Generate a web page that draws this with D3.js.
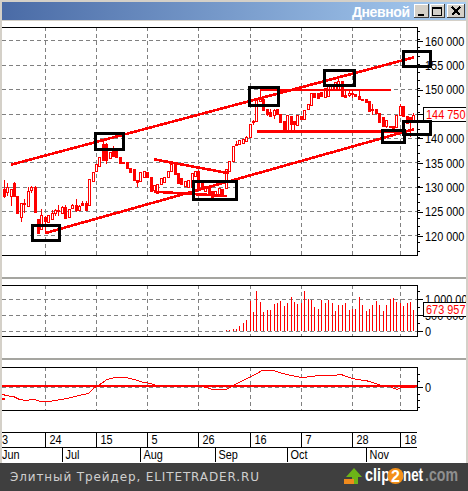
<!DOCTYPE html>
<html><head><meta charset="utf-8">
<script src="https://cdn.jsdelivr.net/npm/d3@7/dist/d3.min.js"></script>
<style>html,body{margin:0;padding:0;background:#fff;overflow:hidden}svg{display:block}</style>
</head><body><svg id="c" width="468" height="491" shape-rendering="crispEdges"></svg>
<script>
// ---- data (prices in thousands, index = trading day) ----
const firstBar = 3;
const opens  = [129.7,129.0,128.2,130.9,128.3,124.0,126.6,126.3,129.4,130.1,123.4,121.6,123.8,122.9,123.5,124.7,125.3,124.7,126.0,123.9,125.8,126.4,125.3,126.8,126.8,126.4,131.4,133.3,134.3,138.8,138.8,136.0,137.5,137.5,136.3,135.1,135.1,133.9,133.8,131.5,131.4,132.2,133.2,132.2,129.5,128.8,130.6,131.0,132.1,133.2,135.1,133.0,131.8,130.3,129.9,130.1,132.3,133.4,131.0,129.3,129.9,129.3,128.2,128.4,129.6,129.9,133.4,135.4,138.5,138.8,139.1,139.5,140.3,143.2,143.4,147.7,148.0,146.0,145.4,144.9,146.1,145.1,143.6,141.7,144.6,143.6,142.9,144.7,144.0,146.0,147.0,149.4,149.4,149.5,148.6,148.7,150.1,150.1,150.1,151.8,149.0,148.8,149.0,149.1,148.8,148.2,148.2,147.6,145.8,146.0,145.2,144.4,142.5,142.6,142.6,142.5,144.9,146.7,144.7,144.5,143.3];
const closes = [128.3,130.1,129.7,128.3,124.9,126.8,126.7,129.3,130.0,124.9,120.6,124.4,123.0,124.3,124.7,125.4,125.0,126.0,123.7,125.6,126.4,125.3,126.2,126.4,125.4,131.7,133.2,134.7,136.2,135.6,135.6,137.2,136.4,136.3,135.1,135.0,133.9,133.0,131.5,131.0,133.2,133.4,132.2,129.3,130.5,130.6,131.8,132.0,133.4,134.7,132.7,131.0,130.6,131.3,131.4,132.9,133.4,129.9,130.0,130.3,128.6,128.1,129.3,129.9,128.2,133.7,135.4,138.4,138.8,139.7,139.9,140.3,142.9,143.5,148.0,148.6,145.8,144.9,144.5,145.9,145.1,143.4,141.5,144.9,142.9,142.9,144.9,144.0,145.8,147.0,149.4,148.6,148.4,148.6,150.4,150.9,150.8,151.6,151.8,148.8,148.6,149.3,149.3,148.6,148.1,148.0,147.6,145.6,146.0,145.2,143.3,142.5,143.8,142.3,141.4,144.9,146.7,144.7,143.2,143.8,144.75];
const highs  = [131.4,130.9,129.7,131.0,128.3,126.8,127.6,130.0,130.3,130.2,123.4,125.6,124.0,124.3,125.3,125.5,126.4,126.1,126.4,125.6,126.5,127.5,126.3,127.1,127.1,131.7,133.2,134.7,136.2,139.4,139.0,137.2,138.4,137.6,136.3,135.1,135.1,133.9,133.8,131.5,133.2,133.4,133.2,132.2,130.5,130.6,131.8,132.0,133.4,134.7,135.1,133.0,131.8,131.3,131.4,132.9,133.4,133.6,131.0,130.3,129.9,129.3,129.3,129.9,129.6,133.7,135.4,138.4,139.4,139.7,139.9,140.6,142.9,143.8,148.0,150.0,148.0,146.0,146.0,146.0,146.1,145.1,143.6,144.9,144.6,143.6,144.9,144.7,145.8,147.0,149.4,149.4,149.4,149.5,150.4,150.9,150.8,151.6,152.3,151.8,150.0,149.9,150.0,149.1,150.0,148.2,148.2,147.6,147.0,146.0,145.2,144.4,143.8,142.6,142.6,144.9,147.0,146.7,144.7,144.5,145.2];
const lows   = [127.8,128.2,126.2,128.2,124.9,122.8,124.7,126.3,128.8,124.9,120.6,121.6,120.6,122.9,123.5,124.0,124.0,124.6,123.6,123.9,125.7,124.9,125.3,126.3,125.1,126.4,131.4,133.3,134.3,135.6,134.7,136.0,136.4,136.3,135.1,135.0,133.9,133.0,131.5,130.0,131.4,132.2,132.2,129.3,128.8,128.8,130.6,131.0,132.1,133.2,132.7,131.0,130.6,130.3,129.9,130.1,132.3,129.9,130.0,129.0,128.6,128.1,128.2,128.4,128.2,129.9,133.4,135.4,138.5,138.8,139.1,139.5,140.3,142.8,143.4,147.7,145.8,144.6,144.5,144.0,145.1,143.4,141.5,141.7,141.5,141.7,142.9,144.0,144.0,146.0,147.0,148.6,148.4,148.6,148.6,148.7,150.1,150.1,150.1,148.8,148.6,148.6,148.4,148.6,148.1,148.0,147.6,145.6,144.8,145.2,143.3,142.5,142.1,142.3,141.4,142.5,144.9,144.7,143.2,140.4,143.3];

const volumeFirst = 66;
const volumes = [20,15,30,40,60,63,167,271,354,958,604,1260,917,604,667,667,854,875,938,792,875,1063,927,854,875,1260,1021,979,771,688,979,896,979,875,646,823,823,875,667,688,688,1063,823,636,688,823,948,823,636,823,1000,1042,917,875,792,896,927,674];

const oscDays = [2.3,3.7,5.6,7.6,9.5,11.5,13.4,16.4,19.3,22.2,25.2,27.6,29.6,31,33,35.4,38.8,41.8,43.7,45.7,47.1,50.5,57.4,61.3,64.2,68.1,70.2,72.2,75.1,78.5,81.9,85.4,90.2,95,100,101.5,104.9,109.3,113.2,116.1,118,119.5,123.4];
const oscVals = [-21,-26,-28,-38,-40,-36,-43,-43,-38,-32,-24,-19,0,8,23,29,29,21,14,12,6,3,1,1,-7,-7,6,16,31,50,50,39,29,35,36,39,26,19,6,1,-7,0,-2];

const priceTicks = [120,125,130,135,140,145,150,155,160];
const volumeTicks = [0,500,1000];
const oscTicks = [0];
const weekTicks = [15,30,45,60,75,90,105,119];
const weekLabels = ["24","15","5","26","16","7","28","18"];
const monthTicks = [20,43,65,86,109];
const monthLabels = ["Jul","Aug","Sep","Oct","Nov"];
const lastClose = "144 750";
const lastVolume = "673 957";

// [day0, price0, day1, price1]
const trendLines = [
  [4.95,134.63,123,156.66],[15,120.6,123,141.9],
  [46.85,135.73,68.9,132.86],[46.85,129.09,68.15,128.2],
  [77.9,149.95,116.2,149.95],[77.1,141.4,119.1,141.4]
];
// [day0, day1, priceHigh, priceLow]
const boxes = [
  [11.25,19.16,122.15,119.14],[29.7,37.9,141.03,137.8],[58.5,71.0,131.18,127.43],
  [74.83,83.33,150.46,146.83],[96.8,105.6,153.89,150.8],[120.0,127.95,157.85,154.7],
  [113.7,120.2,141.58,139.12],[120.0,127.8,143.49,140.82]
];

// ---- scales ----
const svg = d3.select("#c");
const RED = "#ff0000", GRID = "#808080", L = 2, R = 417;
const x = d3.scaleLinear().domain([15,119]).range([45.3,400.3]);
const yP = d3.scaleLinear().domain([116.1,162.87]).range([255,27]);
const yV = d3.scaleLinear().domain([-147,1447]).range([336,285]);
const yO = d3.scaleLinear().domain([-69,61]).range([410,367]);
const snap = v => Math.round(v-0.5)+0.5;
const WIDE_FONT = "'Liberation Sans',Arial,sans-serif";
const LABEL_FONT = WIDE_FONT;
const NARROW = 0.84; // the reference's label face is narrower than Liberation Sans

// window chrome
svg.append("rect").attr("width",468).attr("height",491).attr("fill","#d4d0c8");
svg.append("rect").attr("x",2).attr("y",21).attr("width",464).attr("height",442).attr("fill","#fff");
const defs = svg.append("defs");
const grad = defs.append("linearGradient").attr("id","tb");
grad.append("stop").attr("offset",0).attr("stop-color","#4a6ba6");
grad.append("stop").attr("offset",1).attr("stop-color","#a8cdf2");
svg.append("rect").attr("x",2).attr("y",1.5).attr("width",464).attr("height",18.5).attr("fill","url(#tb)");
svg.append("text").attr("x",352).attr("y",16.5).attr("fill","#fff")
  .attr("font-family",WIDE_FONT).attr("font-weight","bold").attr("font-size",14)
  .attr("textLength",58).text("Дневной");
[[414,15],[430,15],[447,18]].forEach(([bx,bw],k)=>{
  svg.append("rect").attr("x",bx+.5).attr("y",4.5).attr("width",bw-1).attr("height",13).attr("fill","#d4d0c8")
    .attr("stroke","#404040").attr("stroke-width",1);
  svg.append("path").attr("d",`M${bx+.5} 17V4.5H${bx+bw-1}`).attr("fill","none").attr("stroke","#fff");
  const cx=bx+bw/2, g=svg.append("path").attr("fill","none").attr("stroke","#000").attr("stroke-width",2);
  if(k==0) g.attr("d",`M${cx-4} 14.5H${cx+2}`);
  if(k==1) g.attr("stroke-width",1).attr("d",`M${cx-5} 7.5H${cx+4}V15.5H${cx-5}ZM${cx-5} 8.5H${cx+4}`);
  if(k==2) g.attr("d",`M${cx-4} 7L${cx+4} 15M${cx+4} 7L${cx-4} 15`);
});

// panels
const panels = [[27,255],[285,336],[367,410]];
[278,359].forEach(s=>svg.append("rect").attr("x",2).attr("y",s-1).attr("width",464).attr("height",2).attr("fill","#a5a5a0"));

function grid(top,bot,hvals,scale){
  const g = svg.append("g").attr("stroke",GRID).attr("stroke-dasharray","4 3").attr("stroke-width",1).attr("fill","none");
  weekTicks.forEach(d=>g.append("line").attr("x1",snap(x(d))).attr("x2",snap(x(d))).attr("y1",top).attr("y2",bot));
  hvals.forEach(v=>g.append("line").attr("x1",L).attr("x2",R).attr("y1",snap(scale(v))).attr("y2",snap(scale(v))));
}
grid(27,255,priceTicks,yP);
grid(285,336,volumeTicks,yV);
grid(367,410,oscTicks,yO);

// candles
const candles = opens.map((o,k)=>({i:k+firstBar,o,c:closes[k],h:highs[k],l:lows[k]}));
const cg = svg.append("g");
cg.selectAll("line").data(candles).join("line")
  .attr("x1",d=>snap(x(d.i))).attr("x2",d=>snap(x(d.i)))
  .attr("y1",d=>yP(d.h)).attr("y2",d=>yP(d.l)).attr("stroke",RED);
cg.selectAll("rect").data(candles).join("rect")
  .attr("x",d=>snap(x(d.i))-1).attr("width",2)
  .attr("y",d=>Math.round(yP(Math.max(d.o,d.c)))+.5)
  .attr("height",d=>Math.max(1,Math.round(Math.abs(yP(d.o)-yP(d.c)))))
  .attr("fill",d=>d.c>d.o?"#fff":RED).attr("stroke",RED);

// trend lines
svg.append("g").selectAll("line").data(trendLines).join("line")
  .attr("x1",d=>x(d[0])).attr("y1",d=>yP(d[1])).attr("x2",d=>x(d[2])).attr("y2",d=>yP(d[3]))
  .attr("stroke",RED).attr("stroke-width",2.6);

// volume bars
const vols = volumes.map((v,k)=>({i:k+volumeFirst,v}));
svg.append("g").selectAll("line").data(vols).join("line")
  .attr("x1",d=>snap(x(d.i))).attr("x2",d=>snap(x(d.i)))
  .attr("y1",d=>yV(d.v)).attr("y2",yV(0)).attr("stroke",RED);

// oscillator
svg.append("rect").attr("x",L).attr("width",R-L).attr("y",Math.round(yO(0))-2).attr("height",2).attr("fill",RED);
svg.append("path").attr("fill","none").attr("stroke",RED).attr("stroke-width",1)
  .attr("d",d3.line().x(d=>x(d[0])).y(d=>yO(d[1]))(oscDays.map((d,k)=>[d,oscVals[k]])));
svg.append("rect").attr("x",L).attr("width",3).attr("y",Math.round(yO(-36))-1).attr("height",2).attr("fill",RED);

// panel frames
panels.forEach(([t,b])=>{
  svg.append("path").attr("d",`M${L} ${t+.5}H${R+.5}V${b+.5}H${L}`).attr("fill","none").attr("stroke","#000");
});

// right axes via d3.axisRight
function rightAxis(scale,majors,fmt,minors){
  const g = svg.append("g").attr("transform",`translate(${R},0)`);
  g.call(d3.axisRight(scale).tickValues(minors).tickSize(3).tickFormat("")).call(s=>s.select(".domain").remove());
  const m = svg.append("g").attr("transform",`translate(${R},0)`)
    .call(d3.axisRight(scale).tickValues(majors).tickSize(6).tickPadding(2).tickFormat(fmt));
  m.select(".domain").remove();
  m.selectAll("text").attr("font-family",LABEL_FONT).attr("font-size",13).attr("fill","#000")
    .attr("x",8/NARROW).attr("transform",`scale(${NARROW},1)`);
  g.selectAll("line").attr("stroke","#000"); m.selectAll("line").attr("stroke","#000");
}
const pMinor=[]; for(let v=117;v<=162;v+=5/3) pMinor.push(v);
const vMinor=[250,750,1250];
const oMinor=[-60,-40,-20,20,40];
rightAxis(yP,priceTicks,d=>d+" 000",pMinor);
rightAxis(yV,volumeTicks,d=>d===1000?"1 000 000":d===0?"0":d+" 000",vMinor);
rightAxis(yO,oscTicks,d=>"0",oMinor);

// last value tags
function tag(y0,y1,label){
  svg.append("rect").attr("x",423.5).attr("y",y0+.5).attr("width",60).attr("height",y1-y0)
    .attr("fill","#fff").attr("stroke","#000");
  svg.append("text").attr("transform",`translate(426,${(y0+y1)/2+5}) scale(${NARROW},1)`).attr("fill",RED)
    .attr("font-family",LABEL_FONT).attr("font-size",13).text(label);
}
tag(107,121,lastClose);
tag(302,316,lastVolume);

// black boxes
svg.append("g").selectAll("rect").data(boxes).join("rect")
  .attr("x",d=>x(d[0])).attr("width",d=>x(d[1])-x(d[0]))
  .attr("y",d=>yP(d[2])).attr("height",d=>yP(d[3])-yP(d[2]))
  .attr("fill","none").attr("stroke","#000").attr("stroke-width",3);

// time axes
const ax = svg.append("g");
[432,447].forEach(yy=>ax.append("line").attr("x1",L).attr("x2",R).attr("y1",yy+.5).attr("y2",yy+.5).attr("stroke","#000"));
const axText=(tx,ty,t)=>ax.append("text").attr("transform",`translate(${tx},${ty}) scale(${NARROW},1)`).attr("font-family",LABEL_FONT).attr("font-size",13).attr("fill","#000").text(t);
weekTicks.forEach((d,k)=>{
  const px=snap(x(d));
  ax.append("line").attr("x1",px).attr("x2",px).attr("y1",432).attr("y2",447).attr("stroke","#000");
  axText(px+4,444,weekLabels[k]);
});
axText(2,444,"3");
monthTicks.forEach((d,k)=>{
  const px=snap(x(d));
  ax.append("line").attr("x1",px).attr("x2",px).attr("y1",447).attr("y2",462).attr("stroke","#000");
  axText(px+3,459,monthLabels[k]);
});
axText(2,459,"Jun");

// window edges over clipped labels
svg.append("rect").attr("x",466).attr("y",0).attr("width",2).attr("height",463).attr("fill","#d4d0c8");
svg.append("rect").attr("x",0).attr("y",21).attr("width",2).attr("height",442).attr("fill","#d4d0c8");

// footer
svg.append("rect").attr("y",463).attr("width",468).attr("height",28).attr("fill","#3f3f3f");
svg.append("text").attr("x",10).attr("y",481).attr("fill","#cfcfcf")
  .attr("font-family","'DejaVu Sans',sans-serif").attr("font-size",12).attr("textLength",249)
  .text("Элитный Трейдер, ELITETRADER.RU");
svg.append("path").attr("d","M346 477L354 468L362 477H358V484H352V477Z").attr("fill","#6cb417").attr("shape-rendering","auto");
svg.append("rect").attr("x",344).attr("y",479).attr("width",10).attr("height",5).attr("fill","#ef8a1c");
const logoText=(tx,w,t,fill,wt)=>svg.append("text").attr("x",tx).attr("y",481).attr("font-family",WIDE_FONT).attr("font-weight",wt).attr("font-size",18).attr("fill",fill).attr("textLength",w).attr("lengthAdjust","spacingAndGlyphs").text(t);
logoText(365,25,"clip","#fff","bold");
svg.append("circle").attr("cx",395.5).attr("cy",476).attr("r",8).attr("fill","#f39019").attr("shape-rendering","auto");
svg.append("text").attr("x",395.5).attr("y",482).attr("text-anchor","middle").attr("font-family",WIDE_FONT).attr("font-weight","bold").attr("font-size",16).attr("fill","#fff").text("2");
logoText(403,20,"net","#fff","bold");
logoText(425,33,".com","#8f8f8f","bold");
</script></body></html>
